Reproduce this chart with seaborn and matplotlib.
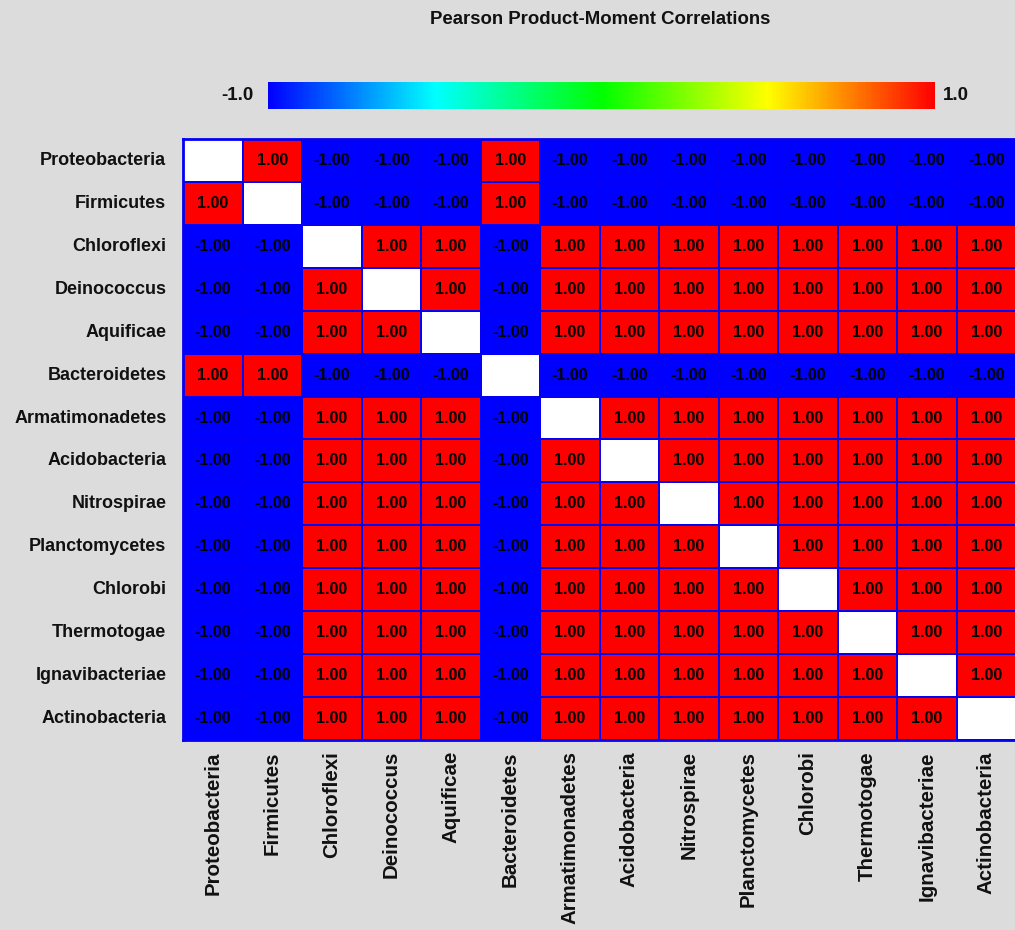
import numpy as np
import pandas as pd
import matplotlib
matplotlib.use("Agg")
import matplotlib.pyplot as plt
from matplotlib.colors import LinearSegmentedColormap
import seaborn as sns

# ── Data ────────────────────────────────────────────────────────────────────
taxa = [
    "Proteobacteria", "Firmicutes", "Chloroflexi", "Deinococcus", "Aquificae",
    "Bacteroidetes", "Armatimonadetes", "Acidobacteria", "Nitrospirae",
    "Planctomycetes", "Chlorobi", "Thermotogae", "Ignavibacteriae",
    "Actinobacteria",
]

N = np.nan
corr_rows = [
    [N, 1, -1, -1, -1, 1, -1, -1, -1, -1, -1, -1, -1, -1],
    [1, N, -1, -1, -1, 1, -1, -1, -1, -1, -1, -1, -1, -1],
    [-1, -1, N, 1, 1, -1, 1, 1, 1, 1, 1, 1, 1, 1],
    [-1, -1, 1, N, 1, -1, 1, 1, 1, 1, 1, 1, 1, 1],
    [-1, -1, 1, 1, N, -1, 1, 1, 1, 1, 1, 1, 1, 1],
    [1, 1, -1, -1, -1, N, -1, -1, -1, -1, -1, -1, -1, -1],
    [-1, -1, 1, 1, 1, -1, N, 1, 1, 1, 1, 1, 1, 1],
    [-1, -1, 1, 1, 1, -1, 1, N, 1, 1, 1, 1, 1, 1],
    [-1, -1, 1, 1, 1, -1, 1, 1, N, 1, 1, 1, 1, 1],
    [-1, -1, 1, 1, 1, -1, 1, 1, 1, N, 1, 1, 1, 1],
    [-1, -1, 1, 1, 1, -1, 1, 1, 1, 1, N, 1, 1, 1],
    [-1, -1, 1, 1, 1, -1, 1, 1, 1, 1, 1, N, 1, 1],
    [-1, -1, 1, 1, 1, -1, 1, 1, 1, 1, 1, 1, N, 1],
    [-1, -1, 1, 1, 1, -1, 1, 1, 1, 1, 1, 1, 1, N],
]

title = "Pearson Product-Moment Correlations"
cbar_min_label = "-1.0"
cbar_max_label = "1.0"

# ── Style ───────────────────────────────────────────────────────────────────
BG = "#dcdcdc"
GRID_BLUE = "#0500f4"
TEXT = "#111111"
FONT = ["Liberation Sans Narrow", "Liberation Sans", "DejaVu Sans"]

sns.set_style("white")
plt.rcParams["font.family"] = FONT
plt.rcParams["font.weight"] = "bold"

rainbow = LinearSegmentedColormap.from_list(
    "blue_red", ["#0000ff", "#00ffff", "#00ff00", "#ffff00", "#ff0000"])

df = pd.DataFrame(corr_rows, index=taxa, columns=taxa, dtype=float)

W, H = 1015, 930
fig = plt.figure(figsize=(W / 100, H / 100), dpi=100)
fig.patch.set_facecolor(BG)

ax = fig.add_axes([183 / W, 1 - 740 / H, 833 / W, 601 / H])
cax = fig.add_axes([268 / W, 1 - 109 / H, 667 / W, 27 / H])

sns.heatmap(df, ax=ax, cmap=rainbow, vmin=-1, vmax=1,
            annot=True, fmt=".2f",
            annot_kws={"fontsize": 11.5, "color": "black", "fontweight": "bold"},
            linewidths=1.3, linecolor=GRID_BLUE,
            cbar_ax=cax, cbar_kws={"orientation": "horizontal"})
ax.set_facecolor("white")

# outer frame
for s in ax.spines.values():
    s.set_visible(True)
    s.set_color(GRID_BLUE)
    s.set_linewidth(2)

ax.set_xlabel("")
ax.set_ylabel("")
ax.tick_params(axis="both", length=0)
ax.tick_params(axis="x", pad=8)
ax.tick_params(axis="y", pad=12)
ax.set_xticklabels(taxa, rotation=90, fontweight="bold", color=TEXT,
                   fontsize=14.8)
ax.set_yticklabels(taxa, rotation=0, fontweight="bold", color=TEXT,
                   fontsize=13)

# colorbar styling: no ticks, end labels on the sides
cbar = ax.collections[0].colorbar
cbar.outline.set_visible(False)
cax.set_xticks([])
cax.text(-0.022, 0.5, cbar_min_label, transform=cax.transAxes,
         ha="right", va="center", fontsize=13.5, fontweight="bold", color=TEXT)
cax.text(1.012, 0.5, cbar_max_label, transform=cax.transAxes,
         ha="left", va="center", fontsize=13.5, fontweight="bold", color=TEXT)

fig.text(600 / W, 1 - 20 / H, title, ha="center", va="center",
         fontsize=13.4, fontweight="bold", color=TEXT)

fig.savefig("out.png", dpi=100, facecolor=BG)
